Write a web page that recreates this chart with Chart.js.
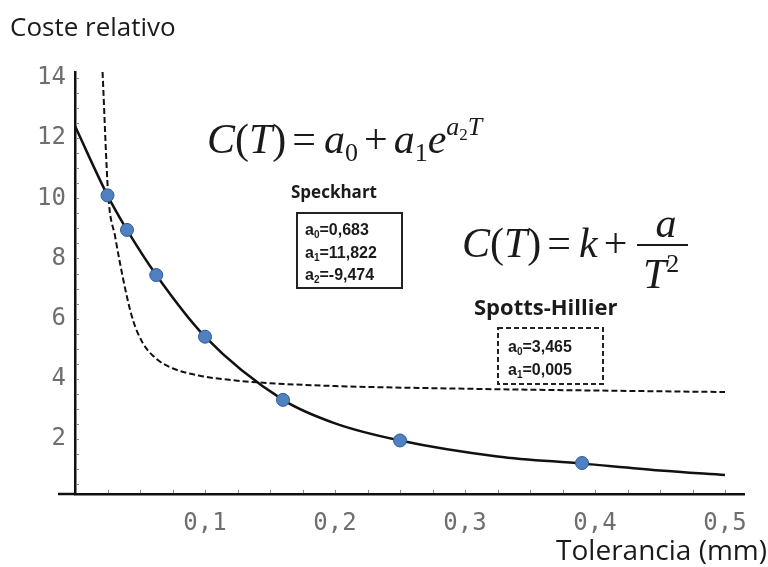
<!DOCTYPE html>
<html>
<head>
<meta charset="utf-8">
<script src="https://cdn.jsdelivr.net/npm/chart.js@4"></script>
<style>
  html, body { margin: 0; padding: 0; background: #fff; }
  canvas { display: block; }
</style>
</head>
<body>
<canvas id="costChart" width="768" height="567"></canvas>
<script>
// Measured tolerances / relative cost (blue points)
const tolerancias = [0.025, 0.04, 0.0625, 0.1, 0.16, 0.25, 0.39];
const costes = [10.1, 8.95, 7.45, 5.4, 3.3, 1.95, 1.2];

// Speckhart curve (solid)
const speckhartT = [0, 0.025, 0.04, 0.0625, 0.1, 0.16, 0.2, 0.25, 0.325, 0.39, 0.45, 0.5];
const speckhartC = [12.4, 10.1, 8.95, 7.45, 5.4, 3.3, 2.52, 1.95, 1.42, 1.18, 0.95, 0.8];

// Spotts-Hillier curve (dashed)
const spottsT = [0.0212, 0.0255, 0.031, 0.0346, 0.04, 0.0446, 0.052, 0.063, 0.075, 0.096, 0.122, 0.148, 0.2, 0.3, 0.4, 0.5];
const spottsC = [14.2, 10.15, 8.7, 7.85, 6.72, 5.95, 5.2, 4.65, 4.35, 4.1, 3.95, 3.86, 3.76, 3.67, 3.61, 3.56];

const xTicks = [0.1, 0.2, 0.3, 0.4, 0.5];
const yTicks = [2, 4, 6, 8, 10, 12, 14];

const toXY = (xs, ys) => xs.map((x, i) => ({ x: x, y: ys[i] }));

// draw a row of text pieces (for sub/superscripts)
function drawRuns(ctx, x, y, runs) {
  runs.forEach(r => {
    if (r.gap) { x += r.gap; return; }
    ctx.font = r.f;
    ctx.fillText(r.t, x, y + (r.dy || 0));
    x += ctx.measureText(r.t).width;
  });
  return x;
}

const I42 = 'italic 42px "Liberation Serif"';
const R42 = '42px "Liberation Serif"';
const I26 = 'italic 26px "Liberation Serif"';
const R26 = '26px "Liberation Serif"';
const R17 = '17px "Liberation Serif"';
const B15 = 'bold 16px "Liberation Sans Narrow", "Liberation Sans"';
const B10 = 'bold 10px "Liberation Sans Narrow", "Liberation Sans"';

const annotations = {
  id: 'annotations',
  afterDraw(chart) {
    const ctx = chart.ctx;
    const xs = chart.scales.x, ys = chart.scales.y;
    const area = chart.chartArea;
    ctx.save();

    // minor ticks
    ctx.strokeStyle = '#888';
    ctx.lineWidth = 1;
    for (let t = 0.025; t < 0.51; t += 0.025) {
      const px = Math.round(xs.getPixelForValue(t)) + 0.5;
      ctx.beginPath(); ctx.moveTo(px, area.bottom - 1); ctx.lineTo(px, area.bottom - 4); ctx.stroke();
    }
    for (let v = 0.5; v < 14.2; v += 0.5) {
      const py = Math.round(ys.getPixelForValue(v)) + 0.5;
      ctx.beginPath(); ctx.moveTo(area.left + 1, py); ctx.lineTo(area.left + 4, py); ctx.stroke();
    }

    // axis line runs a bit past the origin
    ctx.strokeStyle = '#111';
    ctx.lineWidth = 2.5;
    ctx.beginPath(); ctx.moveTo(58, area.bottom); ctx.lineTo(area.left, area.bottom); ctx.stroke();

    ctx.fillStyle = '#1a1a1a';
    ctx.textBaseline = 'alphabetic';
    ctx.textAlign = 'left';

    // axis titles
    ctx.font = '26px "Open Sans"';
    ctx.fillText('Coste relativo', 10, 36);
    ctx.font = '28px "Open Sans"';
    ctx.textAlign = 'right';
    ctx.fillText('Tolerancia (mm)', 767, 560);
    ctx.textAlign = 'left';

    // Speckhart formula
    drawRuns(ctx, 207, 153, [
      { t: 'C', f: I42 }, { t: '(', f: R42 }, { t: 'T', f: I42 }, { t: ')', f: R42 }, { gap: 6 },
      { t: '=', f: R42 }, { gap: 8 }, { t: 'a', f: I42 }, { t: '0', f: R26, dy: 8 }, { gap: 6 },
      { t: '+', f: R42 }, { gap: 6 }, { t: 'a', f: I42 }, { t: '1', f: R26, dy: 8 }, { t: 'e', f: I42 },
      { t: 'a', f: I26, dy: -18 }, { t: '2', f: R17, dy: -13 }, { t: 'T', f: I26, dy: -18 }
    ]);

    ctx.font = 'bold 17px "Open Sans"';
    ctx.fillText('Speckhart', 291, 198);

    ctx.strokeStyle = '#222';
    ctx.lineWidth = 2;
    ctx.strokeRect(297, 213, 105, 75);
    drawRuns(ctx, 305, 235, [{ t: 'a', f: B15 }, { t: '0', f: B10, dy: 3 }, { t: '=0,683', f: B15 }]);
    drawRuns(ctx, 305, 258, [{ t: 'a', f: B15 }, { t: '1', f: B10, dy: 3 }, { t: '=11,822', f: B15 }]);
    drawRuns(ctx, 305, 280, [{ t: 'a', f: B15 }, { t: '2', f: B10, dy: 3 }, { t: '=-9,474', f: B15 }]);

    // Spotts-Hillier formula
    drawRuns(ctx, 462, 257, [
      { t: 'C', f: I42 }, { t: '(', f: R42 }, { t: 'T', f: I42 }, { t: ')', f: R42 }, { gap: 6 },
      { t: '=', f: R42 }, { gap: 8 }, { t: 'k', f: I42 }, { gap: 6 }, { t: '+', f: R42 }
    ]);
    ctx.font = I42;
    ctx.textAlign = 'center';
    ctx.fillText('a', 666, 237);
    ctx.textAlign = 'left';
    ctx.fillRect(637, 244, 51, 2);
    drawRuns(ctx, 643, 288, [{ t: 'T', f: I42 }, { t: '2', f: R26, dy: -16 }]);

    ctx.font = 'bold 22px "Open Sans"';
    ctx.fillText('Spotts-Hillier', 474, 315);

    ctx.setLineDash([5, 3]);
    ctx.strokeRect(498, 328, 105, 56);
    ctx.setLineDash([]);
    drawRuns(ctx, 508, 352, [{ t: 'a', f: B15 }, { t: '0', f: B10, dy: 3 }, { t: '=3,465', f: B15 }]);
    drawRuns(ctx, 508, 375, [{ t: 'a', f: B15 }, { t: '1', f: B10, dy: 3 }, { t: '=0,005', f: B15 }]);

    ctx.restore();
  }
};

const ctx = document.getElementById('costChart').getContext('2d');
new Chart(ctx, {
  type: 'scatter',
  data: {
    datasets: [
      {
        label: 'Datos',
        data: toXY(tolerancias, costes),
        backgroundColor: '#4f81c2',
        borderColor: '#2c5a94',
        borderWidth: 1,
        pointRadius: 6.5,
        order: 0
      },
      {
        label: 'Speckhart',
        data: toXY(speckhartT, speckhartC),
        showLine: true,
        borderColor: '#111',
        borderWidth: 2.5,
        pointRadius: 0,
        cubicInterpolationMode: 'monotone',
        order: 1
      },
      {
        label: 'Spotts-Hillier',
        data: toXY(spottsT, spottsC),
        showLine: true,
        borderColor: '#111',
        borderWidth: 2,
        borderDash: [6, 3],
        pointRadius: 0,
        cubicInterpolationMode: 'monotone',
        order: 2
      }
    ]
  },
  options: {
    responsive: false,
    animation: false,
    devicePixelRatio: 1,
    layout: { padding: { top: 72, right: 24, left: 0, bottom: 0 } },
    plugins: {
      legend: { display: false },
      tooltip: { enabled: false }
    },
    scales: {
      x: {
        type: 'linear',
        min: 0,
        max: 0.5146,
        afterFit: s => { s.height = 73; },
        afterBuildTicks: s => { s.ticks = xTicks.map(v => ({ value: v })); },
        grid: { drawOnChartArea: false, drawTicks: false },
        border: { color: '#111', width: 2.5 },
        ticks: {
          padding: 15,
          maxRotation: 0,
          color: '#6e6e6e',
          font: { family: '"DejaVu Sans Mono"', size: 24 },
          callback: v => v.toFixed(1).replace('.', ',')
        }
      },
      y: {
        min: 0.17,
        max: 14.2,
        afterFit: s => { s.width = 75; },
        afterBuildTicks: s => { s.ticks = yTicks.map(v => ({ value: v })); },
        grid: { drawOnChartArea: false, drawTicks: false },
        border: { color: '#111', width: 2.5 },
        ticks: {
          padding: 9,
          color: '#6e6e6e',
          font: { family: '"DejaVu Sans Mono"', size: 24 },
          callback: v => String(v)
        }
      }
    }
  },
  plugins: [annotations]
});
</script>
</body>
</html>
